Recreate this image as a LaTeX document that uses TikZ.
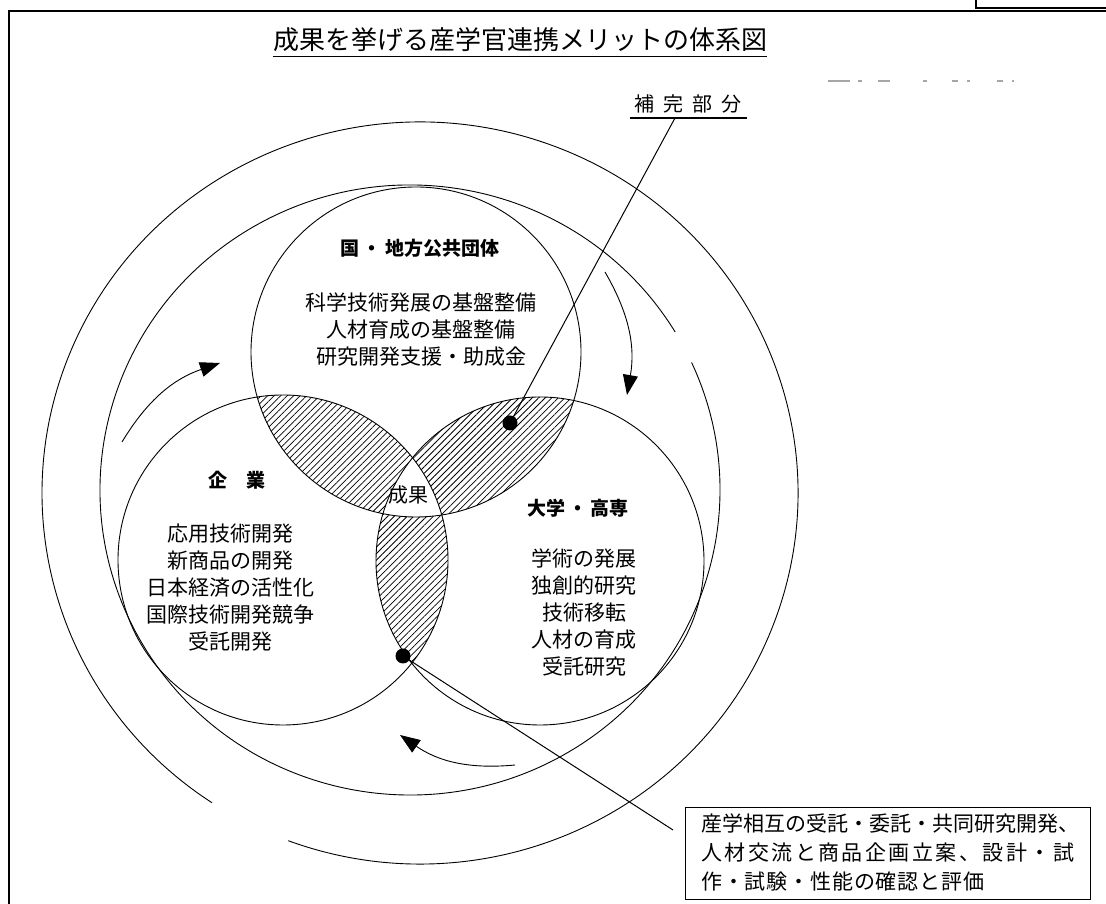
\documentclass[tikz,border=0pt]{standalone}
\usepackage{fontspec}
\setmainfont{Noto Sans CJK JP}
\usetikzlibrary{arrows.meta,patterns.meta}
\begin{document}
\begin{tikzpicture}[x=1pt,y=1pt,
  ln/.style={line width=0.9pt},
  hatch/.style={pattern={Lines[angle=45,distance=4.6pt,line width=0.75pt]}},
  arr/.style={line width=0.9pt,-{Triangle[length=20pt,width=15pt]}},
  txt/.style={font=\fontsize{21}{21}\selectfont,inner sep=0pt},
  head/.style={font=\bfseries\fontsize{19}{19}\selectfont,inner sep=0pt},
  dot/.style={circle,fill=black,minimum size=15pt,inner sep=0pt},
  residue/.style={line width=1.6pt,gray!70}]
\useasboundingbox (0,0) rectangle (1106,904);
\fill[white] (0,0) rectangle (1106,904);
% frame
\draw[line width=2pt] (9,0) -- (9,893) -- (1106,893);
\draw[line width=2pt] (976,904) -- (976,896) -- (1106,896);
% faint residue of cut-off text (top right)
\draw[residue] (828,823) -- (850,823) (858,823) -- (862,823) (878,823) -- (890,823)
  (923,823) -- (927,823) (952,823) -- (958,823) (967,823) -- (970,823)
  (997,823) -- (1003,823) (1012,823) -- (1014,823);
% title
\node[font=\fontsize{26}{26}\selectfont,inner sep=0pt] (title) at (520,864) {成果を挙げる産学官連携メリットの体系図};
\draw[line width=1.3pt] ([yshift=-4pt]title.south west) -- ([yshift=-4pt]title.south east);
% centers
\coordinate (cT) at (416,552);
\coordinate (cL) at (283,344);
\coordinate (cR) at (540,343);
% hatching
\begin{scope}
  \clip (cT) circle[radius=165];
  \fill[hatch] (cL) circle[radius=165];
  \fill[hatch] (cR) circle[radius=164];
\end{scope}
\begin{scope}
  \clip (cL) circle[radius=165];
  \fill[hatch] (cR) circle[radius=164];
\end{scope}
\begin{scope}
  \clip (cT) circle[radius=165];
  \clip (cL) circle[radius=165];
  \fill[white] (cR) circle[radius=164];
\end{scope}
\draw[ln] (cT) circle[radius=165];
\draw[ln] (cL) circle[radius=165];
\draw[ln] (cR) circle[radius=164];
% rings
\coordinate (cA) at (420,411);
\coordinate (cB) at (410,414);
\draw[ln] (cA) ++(249.6:378 and 371) arc[start angle=249.6,end angle=596.6,x radius=378,y radius=371];
\draw[ln] (cB) ++(31.2:310 and 305) arc[start angle=31.2,end angle=384.7,x radius=310,y radius=305];
% flow arrows
\coordinate (a1s) at (122,462); \coordinate (a1e) at (220,541);
\coordinate (a2s) at (605,632); \coordinate (a2e) at (627,509);
\coordinate (a3s) at (515,139); \coordinate (a3e) at (400,169);
\draw[arr] (a1s) to[bend left=20] (a1e);
\draw[arr] (a2s) to[bend left=20] (a2e);
\draw[arr] (a3s) to[bend left=20] (a3e);
% texts
\node[head] (hT) at (420,656) {国\,・\,地方公共団体};
\node[txt] (t1) at (421,601) {科学技術発展の基盤整備};
\node[txt] (t2) at (421,574) {人材育成の基盤整備};
\node[txt] (t3) at (421,547) {研究開発支援・助成金};
\node[head] (hL) at (237,424) {企\quad 業};
\node[txt] (l1) at (230,370) {応用技術開発};
\node[txt] (l2) at (230,343) {新商品の開発};
\node[txt] (l3) at (230,316) {日本経済の活性化};
\node[txt] (l4) at (230,289) {国際技術開発競争};
\node[txt] (l5) at (230,262) {受託開発};
\node[head] (hR) at (578,396) {大学\,・\,高専};
\node[txt] (r1) at (584,345) {学術の発展};
\node[txt] (r2) at (584,318) {独創的研究};
\node[txt] (r3) at (584,291) {技術移転};
\node[txt] (r4) at (584,264) {人材の育成};
\node[txt] (r5) at (584,237) {受託研究};
\node[txt,font=\fontsize{20}{20}\selectfont] (res) at (408,409) {成果};
% complement label
\node[inner sep=0pt,font=\fontsize{20}{20}\selectfont] (comp) at (688,800) {補\hspace{9pt}完\hspace{9pt}部\hspace{9pt}分};
\draw[line width=1.2pt] (630,786) -- (747,786);
\coordinate (compl) at (675,786);
\node[dot] (d1) at (510,481) {};
\draw[line width=1pt] (compl) -- (d1.center);
% box
\node[draw,line width=1.2pt,minimum width=405pt,minimum height=92pt,anchor=south west,inner sep=0pt] (box) at (685,4) {};
\node[txt,anchor=west] (b1) at (701,80) {産学相互の受託・委託・共同研究開発、};
\node[txt,anchor=west] (b2) at (701,51) {\makebox[373pt][s]{人\hfill 材\hfill 交\hfill 流\hfill と\hfill 商\hfill 品\hfill 企\hfill 画\hfill 立\hfill 案\hfill 、\hfill 設\hfill 計\hfill ・\hfill 試}};
\node[txt,anchor=west] (b3) at (701,22) {\makebox[283pt][s]{作\hfill ・\hfill 試\hfill 験\hfill ・\hfill 性\hfill 能\hfill の\hfill 確\hfill 認\hfill と\hfill 評\hfill 価}};
\node[dot] (d2) at (403,248) {};
\coordinate (bl) at (673,74);
\draw[line width=1pt] (bl) -- (d2.center);
\end{tikzpicture}
\end{document}
